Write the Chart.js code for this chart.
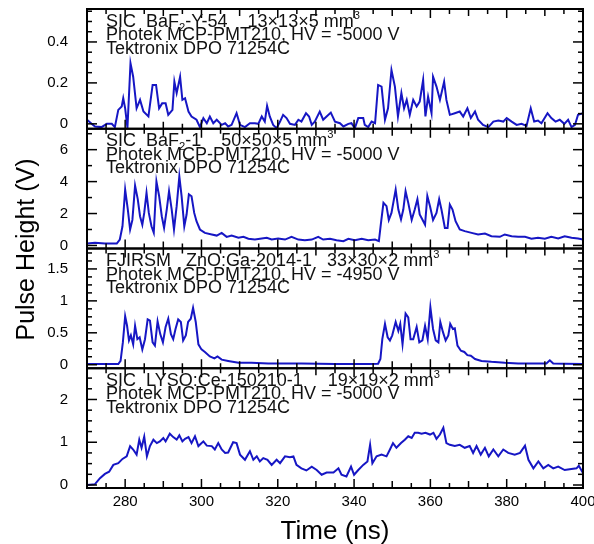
<!DOCTYPE html>
<html>
<head>
<meta charset="utf-8">
<script src="https://cdn.jsdelivr.net/npm/chart.js@4.4.1/dist/chart.umd.min.js"></script>
<style>
  html, body { margin: 0; padding: 0; background: #fff; }
  canvas { display: block; }
</style>
</head>
<body>
<canvas id="pulseChart" width="594" height="544"></canvas>
<script>
// ---- traces (time in ns, pulse height in V) ----
const p1Time = [270,271.2,272.1,273.8,275.2,276.5,277.3,278.2,279.1,279.5,
  280,280.6,281.4,282.1,283,283.9,284.8,286.1,287.2,288.1,
  288.9,289.7,290.6,291.3,292.4,292.9,293.5,294.4,295,295.7,
  296.6,297.4,298.7,299.6,300.5,301.4,302.2,303.1,304,305.3,
  306.2,307,307.9,309.2,310.1,311.4,312.7,314,314.9,315.8,
  316.6,317.2,317.9,318.8,319.7,320.6,321.4,322.3,323.2,324.5,
  325.4,326.2,327.4,328.2,328.9,329.7,331,331.9,332.8,333.9,
  335,336.3,337.2,338.5,339.3,340.2,341.1,342.4,342.8,343.7,
  344.6,345.5,346.3,347.2,348.1,348.9,349.8,350.7,351.5,352.4,
  353.1,353.8,354.6,355.5,356.4,357.2,358.1,358.7,359.4,360.3,
  360.7,361.6,362.5,363.6,364.2,365.1,366.4,367.7,368.6,369.7,
  370.6,371.7,372.5,373.8,375.2,376.5,377.8,379.1,380,381.3,
  382.6,383.9,385.2,386.3,387.2,388.2,389.1,390.7,391.7,392.8,
  393.9,395.1,396.1,397,397.9,398.7,400];
const p1Volt = [0.02,0,-0.013,-0.016,0,0,-0.016,0.068,0.085,0.125,
  0.076,-0.02,0.296,0.23,0.076,0.117,0.06,0.036,0.19,0.19,
  0.076,0.1,0.1,0.044,0.068,0.206,0.15,0.23,0.117,0.125,
  0.06,0.036,0.02,-0.016,0.028,0.003,0.036,0.003,0.02,-0.005,
  0.003,-0.013,-0.005,0.052,-0.005,-0.016,0.003,0.003,0,0.036,
  0.011,0.088,0.036,-0.005,-0.021,0.011,0.044,0.028,0,-0.005,
  0.02,0.011,0.052,0.036,-0.005,0.011,0.06,0.02,0.036,0.055,
  0.011,0.003,-0.013,0,0.003,-0.021,0.028,0.028,-0.005,-0.016,
  0.011,0.003,0.19,0.182,0.02,0.076,0.263,0.182,0.036,0.15,
  0.076,0.117,0.044,0.117,0.085,0.109,0.215,0.036,0.133,0.052,
  0.23,0.182,0.117,0.206,0.117,0.044,0.052,0.06,0.036,0.076,
  0.028,0.06,0.02,-0.005,-0.016,0.011,0.016,0.011,0.028,0.011,
  -0.005,0,-0.01,0.076,0.011,0.016,0.003,0.052,0.028,0.011,
  0.02,0,0.02,-0.016,-0.005,0.044,0.052];

const p2Time = [270,272.1,274.7,277.8,278.6,279.3,280,280.7,281.3,281.9,
  282.6,283.3,283.9,284.5,285,285.6,286.2,286.9,287.5,288.2,
  288.9,289.6,290.2,290.9,291.5,292.2,292.8,293.5,294.2,294.8,
  295.5,296.1,296.7,297.4,298.1,298.7,299.6,300.9,302.7,304,
  305.3,306.6,307.9,309.7,311,312.3,314,315.8,317.1,318.4,
  320.1,321.9,323.6,325.4,327.1,328.9,330.6,331.9,333.7,335.4,
  337.2,338.5,340.2,342,343.7,345.5,346.5,347,347.7,348.5,
  349.1,349.8,350.9,351.6,352.3,352.9,353.5,354.2,355.1,355.9,
  356.6,357.2,357.9,358.6,359.2,359.9,360.7,361.6,362.3,362.9,
  363.8,364.5,365.1,365.8,366.6,367.7,369,370.8,372.5,374.3,
  376,378.2,379.5,381.3,383,384.8,386.5,388.2,390,391.7,
  393.5,395.2,397,398.7,400];
const p2Volt = [0.12,0.17,0.12,0.12,0.37,1.2,3.5,2.25,1.0,1.6,
  3.75,2.9,1.83,1.3,2.04,3.3,2.04,1.2,0.8,4.0,
  3.1,1.83,1.1,2.25,3.4,2.25,1.0,2.46,4.33,3.08,
  1.2,1.94,3.2,3.08,2.04,1.52,1.0,0.79,0.69,0.62,
  0.79,0.54,0.62,0.48,0.54,0.42,0.37,0.44,0.48,0.37,
  0.44,0.37,0.54,0.37,0.33,0.37,0.54,0.37,0.42,0.33,
  0.27,0.42,0.33,0.42,0.33,0.37,0.27,1.3,2.67,2.46,
  1.6,2.04,3.5,2.25,1.63,2.25,3.4,2.67,1.6,2.25,
  2.9,1.94,1.63,1.3,3.1,2.46,1.6,2.04,2.9,2.25,
  1.1,1.1,2.56,2.25,1.52,1.0,0.9,0.79,0.69,0.75,
  0.58,0.54,0.69,0.58,0.54,0.54,0.42,0.48,0.42,0.54,
  0.44,0.58,0.48,0.44,0.37];

const p3Time = [270,273.8,278.2,278.8,279.4,280,280.5,281,281.5,282.1,
  282.6,283.2,283.8,284.5,285.2,285.9,286.5,287.2,287.8,288.5,
  289.2,289.9,290.6,291.3,292,292.6,293.2,293.9,294.6,295.2,
  295.9,296.5,297.2,297.8,298.5,299.2,300,300.9,302.2,303.4,
  304.2,305.3,307,309.7,313.1,317.5,321.9,326.2,330.6,335,
  339.3,343.7,346.3,346.9,347.4,348.1,348.8,349.4,350,350.9,
  351.6,352.1,352.7,353.5,354.2,354.8,355.5,356.4,357.1,357.9,
  358.6,359.3,360,360.7,361.4,362.1,362.6,363.3,364,364.7,
  365.2,365.9,366.4,367.1,368,368.9,369.7,370.6,371.7,373.4,
  376,379.5,383,387.4,390.4,391.3,392.2,395.2,400];
const p3Volt = [0.01,0.01,0.01,0.06,0.35,0.76,0.61,0.38,0.46,0.32,
  0.61,0.40,0.43,0.24,0.40,0.71,0.69,0.35,0.30,0.68,
  0.48,0.35,0.59,0.72,0.48,0.40,0.56,0.71,0.67,0.38,
  0.46,0.67,0.72,0.89,0.67,0.32,0.24,0.20,0.13,0.10,
  0.13,0.08,0.06,0.03,0.03,0.02,0.02,0.02,0.015,0.01,
  0.01,0.01,0.015,0.09,0.40,0.64,0.43,0.38,0.46,0.67,
  0.53,0.64,0.32,0.80,0.74,0.40,0.40,0.59,0.35,0.38,
  0.61,0.40,0.90,0.56,0.38,0.35,0.67,0.51,0.38,0.46,
  0.64,0.56,0.57,0.30,0.22,0.20,0.15,0.14,0.09,0.06,
  0.045,0.03,0.02,0.02,0.02,0.07,0.02,0.015,0.01];

const p4Time = [270,272.1,273.4,274.7,275.8,276.9,278.2,279.3,280.4,281.3,
  282.1,283,283.7,284.3,285,285.7,286.5,287.4,288.3,289.1,
  290,290.6,291.7,292.6,293.5,294.2,295,295.7,296.6,297.4,
  298.3,299.2,300.5,301.4,302.7,303.5,304.4,305.3,306.2,307,
  308.3,309.2,310.1,311.4,312.7,313.6,314.5,315.3,316.2,317.3,
  318.4,319.7,320.6,321.9,323.2,324.1,324.9,326.2,327.5,328.9,
  330.2,331.5,332.8,334.6,335.9,336.7,338,339.2,340,341.1,
  342.4,343.5,344.2,344.8,345.9,347.2,348.5,349.4,350.2,351.1,
  352.3,353.3,354.2,355.1,355.9,356.8,357.7,358.7,359.9,360.8,
  361.6,362.5,363.4,364.2,365.1,366.4,367.7,369,370.3,371.2,
  372.1,373.2,374.3,375.3,376.5,377.8,379.1,380.4,382.1,383.5,
  384.8,385.7,387,388.3,389.6,390.9,392.2,393.5,395.2,396.5,
  398.3,398.9,400];
const p4Volt = [0,0.02,0.16,0.26,0.31,0.47,0.51,0.61,0.67,0.91,
  0.83,0.71,1.06,0.87,1.13,0.67,0.91,1.06,0.98,1.02,
  1.10,1.02,1.20,1.12,1.06,1.16,1.02,1.08,1.12,0.98,
  1.14,0.91,1.02,0.92,0.91,0.83,0.98,0.83,0.75,0.76,
  1.0,0.98,0.71,0.59,0.79,0.59,0.67,0.55,0.63,0.59,
  0.47,0.59,0.51,0.67,0.65,0.67,0.47,0.39,0.34,0.43,
  0.35,0.24,0.29,0.29,0.39,0.24,0.20,0.43,0.24,0.35,
  0.47,0.55,0.94,0.51,0.67,0.71,0.67,0.83,0.98,0.87,
  0.98,1.06,1.14,1.10,1.22,1.22,1.20,1.22,1.18,1.22,
  1.08,1.18,1.34,0.98,0.94,0.91,0.94,0.87,0.91,0.75,
  0.91,0.71,0.87,0.67,0.83,0.67,0.83,0.75,0.71,0.75,
  0.92,0.59,0.39,0.55,0.39,0.47,0.39,0.43,0.35,0.37,
  0.39,0.45,0.28];

// tick labels
const xTickLabels = [280, 300, 320, 340, 360, 380, 400];
const p1Ticks = [0, 0.2, 0.4];
const p2Ticks = [0, 2, 4, 6];
const p3Ticks = [0, 0.5, 1, 1.5];
const p4Ticks = [0, 1, 2];

// panel headers (_{..} = subscript, ^{..} = superscript)
const p1Header = ['SIC  BaF_{2}-Y-54    13×13×5 mm^{3}', 'Photek MCP-PMT210, HV = -5000 V', 'Tektronix DPO 71254C'];
const p2Header = ['SIC  BaF_{2}-1    50×50×5 mm^{3}', 'Photek MCP-PMT210, HV = -5000 V', 'Tektronix DPO 71254C'];
const p3Header = ['FJIRSM   ZnO:Ga-2014-1   33×30×2 mm^{3}', 'Photek MCP-PMT210, HV = -4950 V', 'Tektronix DPO 71254C'];
const p4Header = ['SIC  LYSO:Ce-150210-1     19×19×2 mm^{3}', 'Photek MCP-PMT210, HV = -5000 V', 'Tektronix DPO 71254C'];

const FONT = '"Liberation Sans", Arial, Helvetica, sans-serif';
const LINE_COLOR = '#1616c4';

const panels = [
  { id: 'y1', time: p1Time, volt: p1Volt, ticks: p1Ticks, min: -0.024, max: 0.561, major: 0.2, minor: 0.05, header: p1Header },
  { id: 'y2', time: p2Time, volt: p2Volt, ticks: p2Ticks, min: -0.19, max: 7.31, major: 2, minor: 1, header: p2Header },
  { id: 'y3', time: p3Time, volt: p3Volt, ticks: p3Ticks, min: -0.055, max: 1.82, major: 0.5, minor: 0.125, header: p3Header },
  { id: 'y4', time: p4Time, volt: p4Volt, ticks: p4Ticks, min: -0.07, max: 2.73, major: 1, minor: 0.25, header: p4Header }
];

// draws one header line with sub/superscripts
function drawRich(ctx, str, x, y, size) {
  const parts = str.split(/(_\{[^}]*\}|\^\{[^}]*\})/).filter(s => s.length);
  parts.forEach(part => {
    let txt = part, dy = 0, fs = size;
    if (part.startsWith('_{')) { txt = part.slice(2, -1); dy = 4; fs = size * 0.62; }
    else if (part.startsWith('^{')) { txt = part.slice(2, -1); dy = -8; fs = size * 0.62; }
    ctx.font = fs + 'px ' + FONT;
    ctx.fillText(txt, x, y + dy);
    x += ctx.measureText(txt).width;
  });
}

function line(ctx, x1, y1, x2, y2) {
  ctx.beginPath();
  ctx.moveTo(x1, y1);
  ctx.lineTo(x2, y2);
  ctx.stroke();
}

// frame, inward ticks on all four sides of each panel, headers and axis titles
const framePlugin = {
  id: 'frame',
  afterDraw(chart) {
    const { ctx, chartArea: a, scales } = chart;
    const xs = scales.x;
    ctx.save();
    ctx.strokeStyle = '#000';
    ctx.fillStyle = '#111';
    panels.forEach(p => {
      const ys = scales[p.id];
      const top = ys.top, bot = ys.bottom;
      ctx.lineWidth = 1.5;
      for (let t = 270; t <= 400; t += 5) {
        const x = xs.getPixelForValue(t);
        const len = t % 20 === 0 ? 9 : (t % 10 === 0 ? 7 : 5);
        line(ctx, x, bot, x, bot - len);
        line(ctx, x, top, x, top + len);
      }
      const k0 = Math.ceil(p.min / p.minor - 1e-9);
      for (let k = k0; k * p.minor <= p.max + 1e-9; k++) {
        const v = k * p.minor;
        const y = ys.getPixelForValue(v);
        const r = v / p.major;
        const len = Math.abs(r - Math.round(r)) < 1e-6 ? 10 : 5;
        line(ctx, a.left, y, a.left + len, y);
        line(ctx, a.right, y, a.right - len, y);
      }
      ctx.lineWidth = 2;
      ctx.strokeRect(a.left, top, a.right - a.left, bot - top);

      ctx.textAlign = 'left';
      ctx.textBaseline = 'alphabetic';
      p.header.forEach((s, i) => drawRich(ctx, s, a.left + 19, top + 17.5 + i * 13.6, 18));
    });

    ctx.fillStyle = '#000';
    ctx.font = '26px ' + FONT;
    ctx.textAlign = 'center';
    ctx.fillText('Time (ns)', (a.left + a.right) / 2, 539);

    ctx.translate(34, (a.top + a.bottom) / 2 + 1);
    ctx.rotate(-Math.PI / 2);
    ctx.font = '25px ' + FONT;
    ctx.fillText('Pulse Height (V)', 0, 0);
    ctx.restore();
  }
};

const scales = {
  x: {
    type: 'linear', min: 270, max: 400,
    grid: { display: false, drawTicks: false },
    border: { display: false },
    ticks: { color: '#000', font: { family: FONT, size: 15 }, padding: 5, maxRotation: 0 },
    afterBuildTicks: s => { s.ticks = xTickLabels.map(v => ({ value: v })); },
    afterFit: s => { s.height = 56; s.paddingLeft = 0; s.paddingRight = 0; }
  }
};
panels.forEach((p, i) => {
  scales[p.id] = {
    type: 'linear', position: 'left', stack: 'pulse', stackWeight: 1, weight: 10 - i,
    min: p.min, max: p.max,
    grid: { display: false, drawTicks: false },
    border: { display: false },
    ticks: { color: '#000', font: { family: FONT, size: 15 }, padding: 19, callback: v => String(v) },
    afterBuildTicks: s => { s.ticks = p.ticks.map(v => ({ value: v })); },
    afterFit: s => { s.width = 87; s.paddingTop = 0; s.paddingBottom = 0; }
  };
});

new Chart(document.getElementById('pulseChart'), {
  type: 'line',
  data: {
    datasets: panels.map(p => ({
      data: p.time.map((t, i) => ({ x: t, y: p.volt[i] })),
      yAxisID: p.id,
      xAxisID: 'x',
      borderColor: LINE_COLOR,
      borderWidth: 2,
      pointRadius: 0,
      tension: 0,
      fill: false
    }))
  },
  options: {
    responsive: false,
    animation: false,
    layout: { padding: { top: 9, right: 11, bottom: 0, left: 0 } },
    plugins: { legend: { display: false }, tooltip: { enabled: false } },
    scales
  },
  plugins: [framePlugin]
});
</script>
</body>
</html>
